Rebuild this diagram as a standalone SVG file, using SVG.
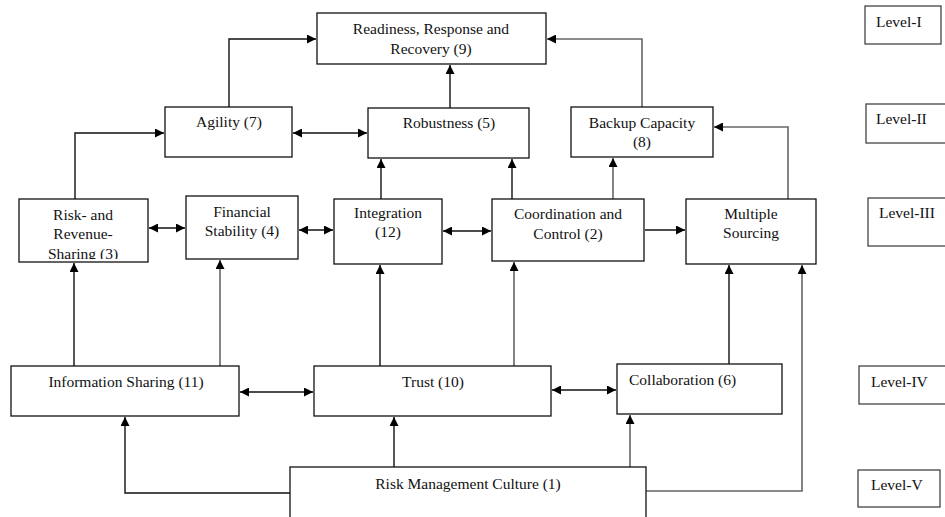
<svg xmlns="http://www.w3.org/2000/svg" width="945" height="517" viewBox="0 0 945 517">
<style>
.box{fill:#fff;stroke:#111;stroke-width:1.3}
.lvl{fill:#fff;stroke:#444;stroke-width:1.3}
.t{font-family:"Liberation Serif","Times New Roman",serif;font-size:15.5px;fill:#111;text-anchor:middle}
.tl{font-family:"Liberation Serif","Times New Roman",serif;font-size:15.5px;fill:#111}
.c{fill:none;stroke:#111;stroke-width:1.4}
.g{fill:none;stroke:#666;stroke-width:1.6}
</style>
<defs>
<marker id="ah" viewBox="0 0 10 10" refX="10" refY="5" markerWidth="9" markerHeight="9" markerUnits="userSpaceOnUse" orient="auto-start-reverse">
<path d="M0,0 L10,5 L0,10 z" fill="#000"/>
</marker>
<clipPath id="riskclip"><rect x="19" y="199" width="129" height="60"/></clipPath>
</defs>
<rect width="945" height="517" fill="#fff"/>
<g id="connectors">
<path class="c" d="M229 107 V39 H316" marker-end="url(#ah)"/>
<path class="c" d="M450 108 V65" marker-end="url(#ah)"/>
<path class="g" d="M642 107 V39 H547" marker-end="url(#ah)"/>
<path class="c" d="M293 133 H367" marker-start="url(#ah)" marker-end="url(#ah)"/>
<path class="c" d="M75 199 V133 H164" marker-end="url(#ah)"/>
<path class="c" d="M381 199 V159" marker-end="url(#ah)"/>
<path class="c" d="M512 199 V159" marker-end="url(#ah)"/>
<path class="g" d="M613 199 V158" marker-end="url(#ah)"/>
<path class="g" d="M788 199 V127 H714" marker-end="url(#ah)"/>
<path class="c" d="M149 228 H185" marker-start="url(#ah)" marker-end="url(#ah)"/>
<path class="c" d="M299 230 H333" marker-start="url(#ah)" marker-end="url(#ah)"/>
<path class="c" d="M443 231 H491" marker-start="url(#ah)" marker-end="url(#ah)"/>
<path class="c" d="M645 230 H685" marker-end="url(#ah)"/>
<path class="c" d="M74 366 V263" marker-end="url(#ah)"/>
<path class="g" d="M220 366 V260" marker-end="url(#ah)"/>
<path class="c" d="M380 366 V265" marker-end="url(#ah)"/>
<path class="g" d="M514 366 V262" marker-end="url(#ah)"/>
<path class="c" d="M729 364 V265" marker-end="url(#ah)"/>
<path class="c" d="M240 392 H313" marker-start="url(#ah)" marker-end="url(#ah)"/>
<path class="c" d="M552 390 H616" marker-start="url(#ah)" marker-end="url(#ah)"/>
<path class="c" d="M290 493 H125 V417" marker-end="url(#ah)"/>
<path class="c" d="M394 467 V417" marker-end="url(#ah)"/>
<path class="g" d="M630 467 V415" marker-end="url(#ah)"/>
<path class="g" d="M646 491 H802 V265" marker-end="url(#ah)"/>
</g>
<g id="n9"><rect class="box" x="317" y="13" width="229" height="51"/><text class="t" x="431" y="34">Readiness, Response and</text><text class="t" x="431" y="54">Recovery (9)</text></g>
<g id="n7"><rect class="box" x="165" y="107" width="127" height="50"/><text class="t" x="229" y="127">Agility (7)</text></g>
<g id="n5"><rect class="box" x="368" y="108" width="161" height="50"/><text class="t" x="449" y="128">Robustness (5)</text></g>
<g id="n8"><rect class="box" x="571" y="107" width="142" height="50"/><text class="t" x="642" y="128">Backup Capacity</text><text class="t" x="642" y="147">(8)</text></g>
<g id="n3"><rect class="box" x="19" y="199" width="129" height="63"/><g clip-path="url(#riskclip)"><text class="t" x="83" y="220">Risk- and</text><text class="t" x="83" y="239">Revenue-</text><text class="t" x="83" y="259">Sharing (3)</text></g></g>
<g id="n4"><rect class="box" x="186" y="196" width="112" height="63"/><text class="t" x="242" y="217">Financial</text><text class="t" x="242" y="236">Stability (4)</text></g>
<g id="n12"><rect class="box" x="334" y="199" width="108" height="65"/><text class="t" x="388" y="218">Integration</text><text class="t" x="388" y="237">(12)</text></g>
<g id="n2"><rect class="box" x="492" y="199" width="152" height="62"/><text class="t" x="568" y="219">Coordination and</text><text class="t" x="568" y="239">Control (2)</text></g>
<g id="n13"><rect class="box" x="686" y="199" width="130" height="65"/><text class="t" x="751" y="219">Multiple</text><text class="t" x="751" y="238">Sourcing</text></g>
<g id="n11"><rect class="box" x="11" y="366" width="228" height="50"/><text class="t" x="126" y="387">Information Sharing (11)</text></g>
<g id="n10"><rect class="box" x="314" y="366" width="237" height="50"/><text class="t" x="433" y="387">Trust (10)</text></g>
<g id="n6"><rect class="box" x="617" y="364" width="165" height="50"/><text class="tl" x="629" y="385">Collaboration (6)</text></g>
<g id="n1"><rect class="box" x="290" y="467" width="356" height="70"/><text class="t" x="468" y="489">Risk Management Culture (1)</text></g>
<g id="l1"><rect class="lvl" x="865" y="6" width="76" height="38"/><text class="tl" x="876" y="27">Level-I</text></g>
<g id="l2"><rect class="lvl" x="866" y="104" width="82" height="39"/><text class="tl" x="876" y="124">Level-II</text></g>
<g id="l3"><rect class="lvl" x="868" y="198" width="80" height="48"/><text class="tl" x="879" y="218">Level-III</text></g>
<g id="l4"><rect class="lvl" x="859" y="366" width="90" height="38"/><text class="tl" x="871" y="387">Level-IV</text></g>
<g id="l5"><rect class="lvl" x="858" y="470" width="82" height="37"/><text class="tl" x="871" y="490">Level-V</text></g>
</svg>
